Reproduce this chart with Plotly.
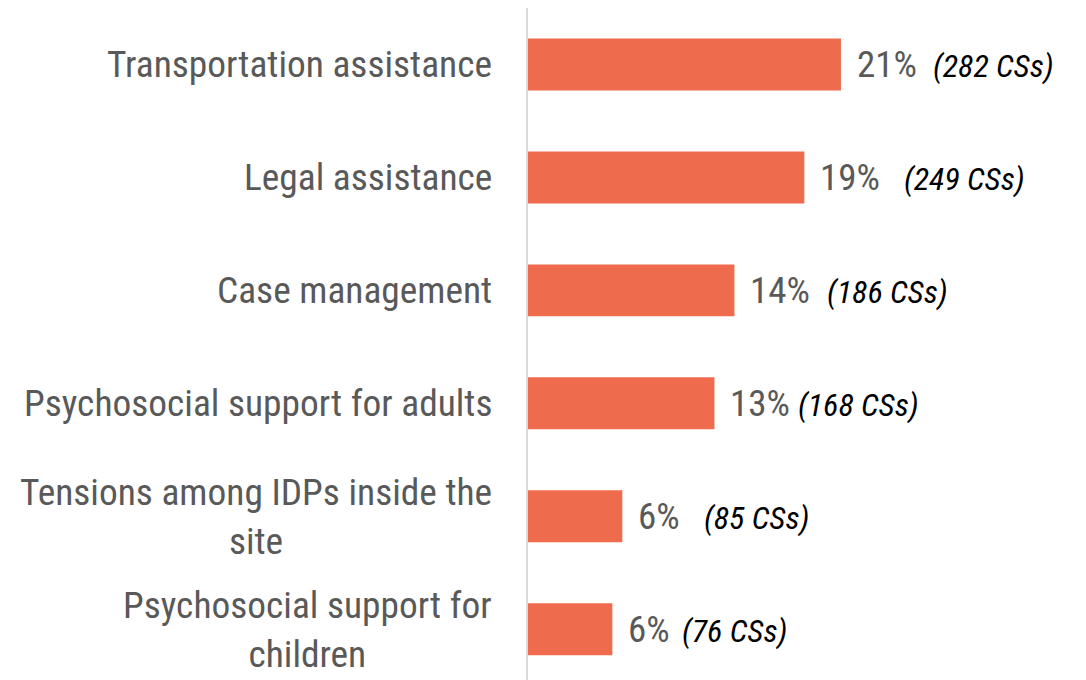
import plotly.graph_objects as go

# ---- data ----
categories = [
    "Transportation assistance",
    "Legal assistance",
    "Case management",
    "Psychosocial support for adults",
    "Tensions among IDPs inside the<br>site",
    "Psychosocial support for<br>children",
]
cs_counts = [282, 249, 186, 168, 85, 76]
pct_labels = ["21%", "19%", "14%", "13%", "6%", "6%"]

# ---- style ----
BAR_COLOR = "#EE6B4E"
TEXT_GRAY = "#595959"
FONT = "Roboto Condensed, Liberation Sans Narrow, DejaVu Sans Condensed, Roboto, sans-serif"
cs_shift = [91, 99, 92, 83, 81, 69]  # pixel offset of italic count label from bar end

ypos = list(range(len(categories)))

fig = go.Figure(
    go.Bar(
        x=cs_counts,
        y=ypos,
        orientation="h",
        marker=dict(color=BAR_COLOR, line=dict(width=0)),
        width=0.46,
        hoverinfo="skip",
    )
)

annotations = []
for i, (cat, n, p) in enumerate(zip(categories, cs_counts, pct_labels)):
    annotations.append(dict(
        x=0, y=i, xref="paper", yref="y", text=cat, showarrow=False,
        xanchor="right", yanchor="middle", xshift=-34, align="center",
        font=dict(family=FONT, size=37.4, color=TEXT_GRAY),
    ))
    annotations.append(dict(
        x=n, y=i, xref="x", yref="y", text=p, showarrow=False,
        xanchor="left", yanchor="middle", xshift=14,
        font=dict(family=FONT, size=37, color=TEXT_GRAY),
    ))
    annotations.append(dict(
        x=n, y=i, xref="x", yref="y", text=f"<i>({n} CSs)</i>", showarrow=False,
        xanchor="left", yanchor="middle", xshift=cs_shift[i] - 1, yshift=-2,
        font=dict(family=FONT, size=32, color="#000000"),
    ))

fig.update_layout(
    width=1086, height=680,
    margin=dict(l=520, r=0, t=0, b=0),
    paper_bgcolor="white", plot_bgcolor="white",
    showlegend=False,
    annotations=annotations,
    xaxis=dict(range=[0, 510], visible=False, fixedrange=True),
    yaxis=dict(
        range=[5.52, -0.5], showticklabels=False, showgrid=False, zeroline=False,
        showline=True, linecolor="#D9D9D9", linewidth=2, ticks="",
    ),
)

fig.write_html("out.html")
